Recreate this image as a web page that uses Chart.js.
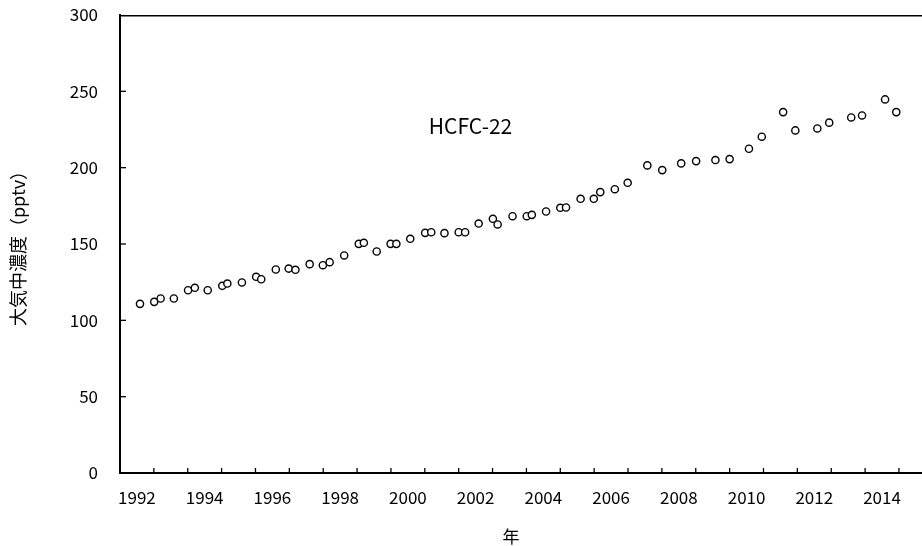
<!DOCTYPE html>
<html>
<head>
<meta charset="utf-8">
<script src="https://cdn.jsdelivr.net/npm/chart.js@4"></script>
<style>
  html, body { margin: 0; padding: 0; background: #fff; overflow: hidden; }
  #wrap { width: 922px; height: 546px; }
</style>
</head>
<body>
<div id="wrap"><canvas id="chart"></canvas></div>
<script>
// decimal year of each sample
const years = [1992.09,1992.51,1992.70,1993.09,1993.51,1993.71,1994.09,1994.52,1994.67,
  1995.10,1995.52,1995.67,1996.10,1996.48,1996.68,1997.10,1997.49,1997.69,
  1998.12,1998.55,1998.70,1999.08,1999.49,1999.66,2000.07,2000.51,2000.69,
  2001.08,2001.50,2001.69,2002.09,2002.51,2002.65,2003.09,2003.51,2003.66,
  2004.08,2004.50,2004.67,2005.10,2005.49,2005.68,2006.11,2006.49,
  2007.07,2007.51,2008.07,2008.51,2009.08,2009.50,2010.07,2010.45,
  2011.08,2011.44,2012.09,2012.44,2013.09,2013.41,2014.09,2014.42];

// HCFC-22 (pptv)
const hcfc22 = [110.8,112.1,114.3,114.3,119.7,121.3,119.7,122.6,124.1,
  124.8,128.5,126.9,133.3,133.9,133.1,136.8,136.1,138.1,
  142.5,150.1,150.8,145.1,150.1,150.1,153.4,157.3,157.7,
  157.1,157.7,157.7,163.4,166.5,162.8,168.2,168.2,169.1,
  171.3,173.7,173.9,179.6,179.6,184.0,185.9,190.1,
  201.5,198.4,202.8,204.3,205.0,205.6,212.4,220.3,
  236.4,224.4,225.7,229.5,232.9,234.2,244.7,236.4];

const yearLabels = [1992,1994,1996,1998,2000,2002,2004,2006,2008,2010,2012,2014];
const yTicks = [0,50,100,150,200,250,300];

const FONT = "'Noto Sans CJK JP', 'Noto Sans', sans-serif";

// tick marks sit between the years, pointing into the plot
const framePlugin = {
  id: "frame",
  afterDraw(chart) {
    const ctx = chart.ctx;
    const a = chart.chartArea;
    const xs = chart.scales.x;
    const ys = chart.scales.y;
    ctx.save();
    ctx.strokeStyle = "#000";

    ctx.lineWidth = 1.5;
    ctx.beginPath();
    ctx.moveTo(a.left, a.top + 0.7);
    ctx.lineTo(a.right, a.top + 0.7);
    ctx.stroke();

    ctx.lineWidth = 1.3;
    for (let y = 1992.5; y < xs.max; y++) {
      const px = xs.getPixelForValue(y);
      ctx.beginPath();
      ctx.moveTo(px, a.bottom);
      ctx.lineTo(px, a.bottom - 5);
      ctx.stroke();
    }
    yTicks.slice(1, -1).forEach(v => {
      const py = ys.getPixelForValue(v);
      ctx.beginPath();
      ctx.moveTo(a.left, py);
      ctx.lineTo(a.left + 6, py);
      ctx.stroke();
    });

    ctx.fillStyle = "#000";
    ctx.textAlign = "center";
    ctx.textBaseline = "middle";
    ctx.font = "21px " + FONT;
    ctx.fillText("HCFC-22", xs.getPixelForValue(2001.85), ys.getPixelForValue(227));

    ctx.font = "17px " + FONT;
    ctx.fillText("年", 511, 537);
    ctx.restore();
  }
};

new Chart(document.getElementById("chart"), {
  type: "scatter",
  data: {
    datasets: [{
      label: "HCFC-22",
      data: years.map((x, i) => ({ x: x, y: hcfc22[i] })),
      pointStyle: "circle",
      pointRadius: 3.6,
      pointHoverRadius: 3.6,
      pointBorderWidth: 1.4,
      pointBorderColor: "#000",
      pointBackgroundColor: "#fff"
    }]
  },
  options: {
    responsive: true,
    maintainAspectRatio: false,
    animation: false,
    layout: { autoPadding: false, padding: { top: 15, right: 0, left: 0, bottom: 0 } },
    plugins: {
      legend: { display: false },
      tooltip: { enabled: false }
    },
    scales: {
      x: {
        type: "linear",
        min: 1991.5,
        max: 2015.18,
        afterFit(scale) {
          scale.height = 73;
          scale.paddingLeft = 0;
          scale.paddingRight = 0;
        },
        afterBuildTicks(scale) {
          scale.ticks = yearLabels.map(v => ({ value: v }));
        },
        grid: { display: false, drawTicks: false },
        border: { display: true, color: "#000", width: 2 },
        ticks: {
          padding: 14,
          color: "#000",
          font: { family: FONT, size: 17 },
          callback: v => String(v)
        }
      },
      y: {
        min: 0,
        max: 300,
        afterFit(scale) {
          scale.width = 120;
          scale.paddingTop = 0;
          scale.paddingBottom = 0;
        },
        afterBuildTicks(scale) {
          scale.ticks = yTicks.map(v => ({ value: v }));
        },
        grid: { display: false, drawTicks: false },
        border: { display: true, color: "#000", width: 2 },
        ticks: {
          padding: 22,
          color: "#000",
          font: { family: FONT, size: 17 }
        },
        title: {
          display: true,
          text: "大気中濃度（pptv）",
          color: "#000",
          padding: { top: 7, bottom: 0 },
          font: { family: FONT, size: 18 }
        }
      }
    }
  },
  plugins: [framePlugin]
});
</script>
</body>
</html>
